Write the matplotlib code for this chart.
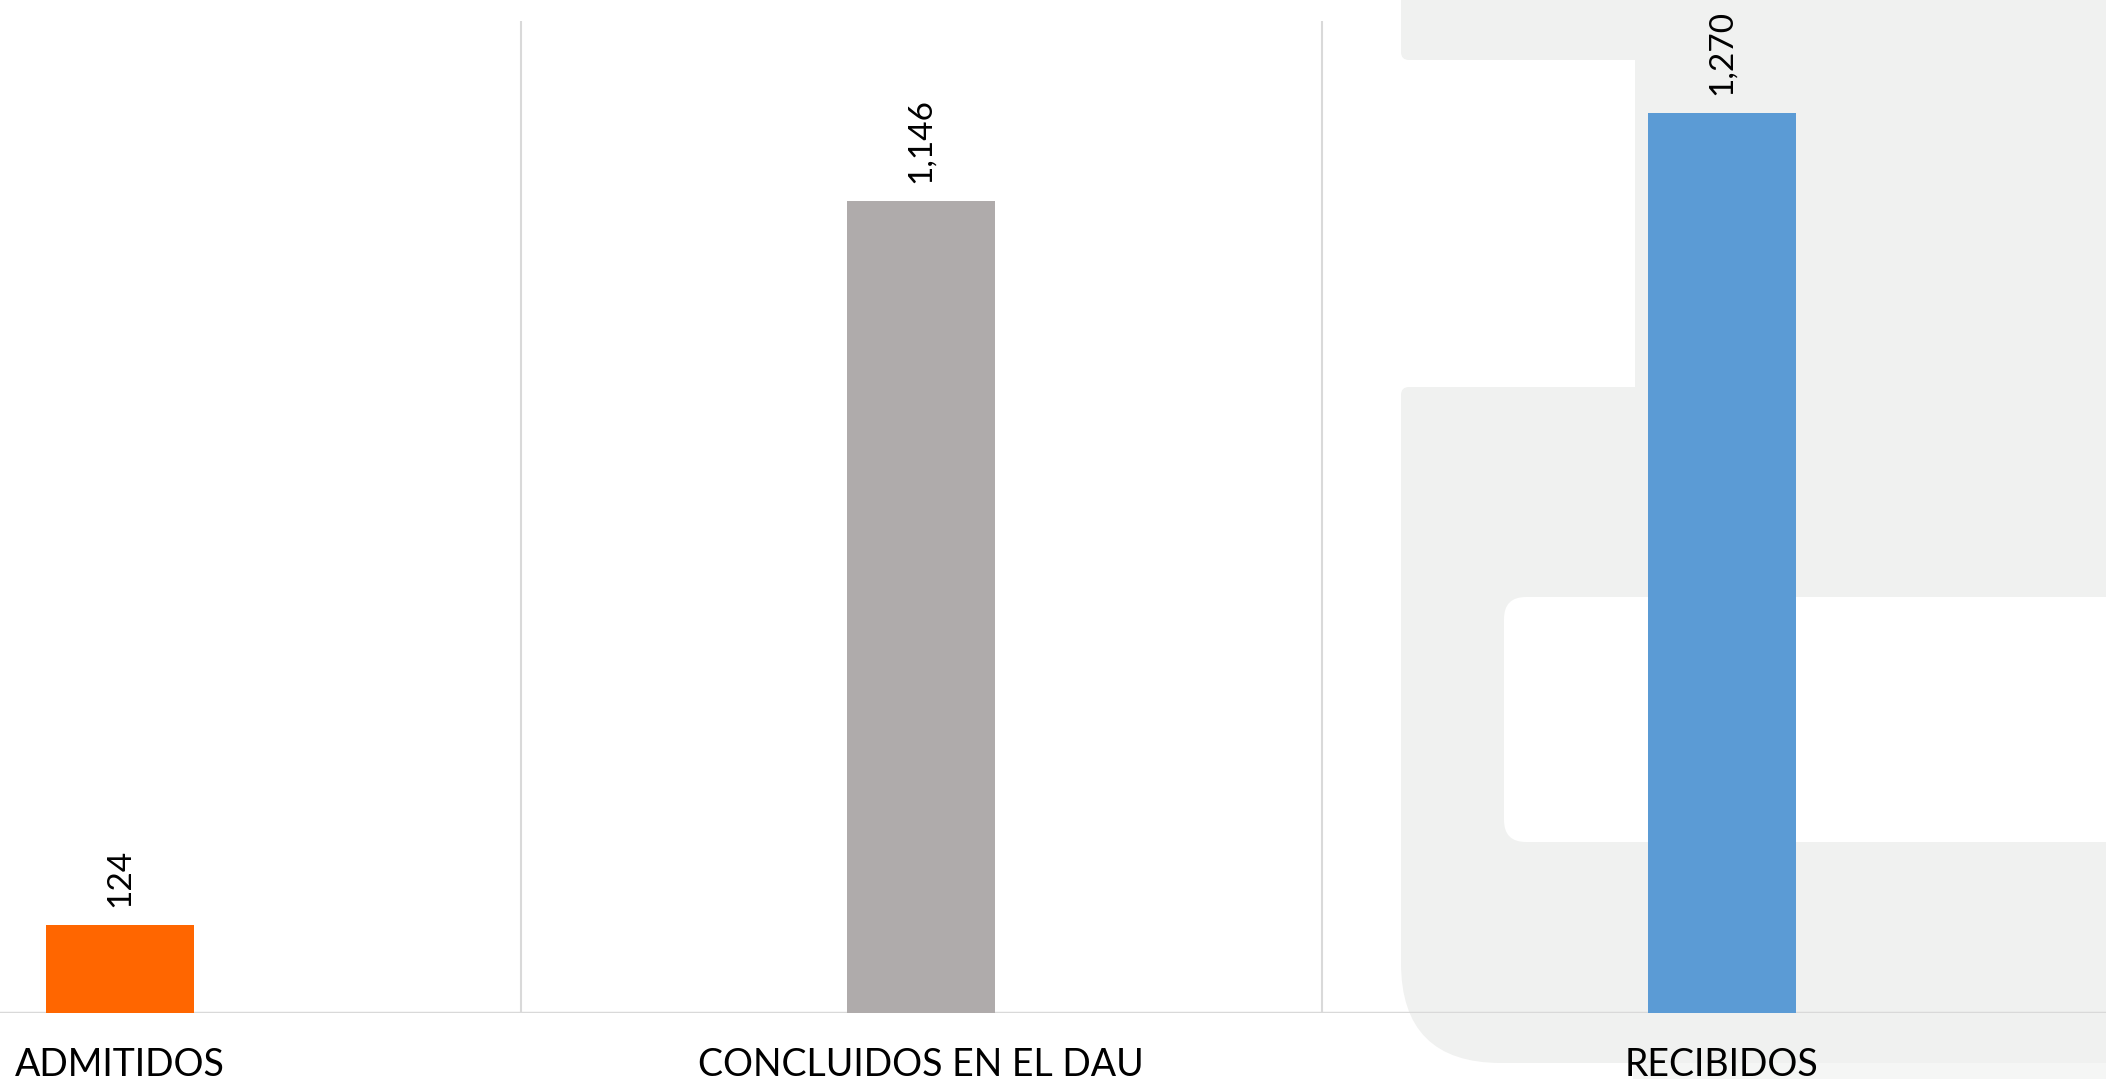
import matplotlib
matplotlib.use("Agg")
import matplotlib.pyplot as plt
from matplotlib.patches import FancyBboxPatch, Rectangle

plt.rcParams['font.family'] = ['Lato', 'DejaVu Sans']

# data
categories = ["ADMITIDOS", "CONCLUIDOS EN EL DAU", "RECIBIDOS"]
values = [124, 1146, 1270]
bar_colors = ["#FF6600", "#AFABAB", "#5B9BD5"]

W, H = 2106, 1079
fig = plt.figure(figsize=(W / 100, H / 100), dpi=100)
fig.patch.set_facecolor("white")

# faint logo watermark behind the chart (pixel coords)
bg = fig.add_axes([0, 0, 1, 1], zorder=0)
bg.set_xlim(0, W)
bg.set_ylim(H, 0)
bg.axis("off")
wm = "#F0F1F0"


def rbox(x0, y0, w, h, r, fc):
    bg.add_patch(FancyBboxPatch((x0, y0), w, h, boxstyle=f"round,pad=0,rounding_size={r}",
                                fc=fc, ec="none"))


bg.add_patch(Rectangle((1635, -300), 800, 1363, fc=wm, ec="none"))
rbox(1370, 60, 265, 327, 14, "white")
rbox(1401, -300, 1000, 360, 8, wm)
rbox(1401, 387, 1000, 400, 8, wm)
rbox(1401, 500, 1000, 563, 100, wm)
rbox(1504, 597, 800, 245, 22, "white")
bg.add_patch(Rectangle((1633, 1063), 600, 30, fc="#F5F6F5", ec="none"))

# chart
ax = fig.add_axes([0, 66 / H, 1, 992 / H], zorder=1)
ax.patch.set_alpha(0)
x = list(range(len(categories)))
ax.bar(x, values, width=0.185, color=bar_colors, zorder=3)

for xi, v in zip(x, values):
    ax.annotate(f"{v:,}", (xi, v), xytext=(0, 13), textcoords="offset points",
                rotation=90, ha="center", va="bottom", fontsize=24, color="black")

for b in [i + 0.5 for i in x[:-1]]:
    ax.axvline(b, color="#D9D9D9", lw=1.5, zorder=1)
ax.axhline(0, color="#D9D9D9", lw=2.5, zorder=2)

for xi, lab in zip(x, categories):
    ax.text(xi, -0.0635, lab, transform=ax.get_xaxis_transform(), ha="center",
            va="baseline", fontsize=27, color="black")

ax.set_xlim(-120 / 801, -120 / 801 + W / 801)
ax.set_ylim(0, 1400)
ax.axis("off")

fig.savefig("out.png", dpi=100, facecolor="white")
